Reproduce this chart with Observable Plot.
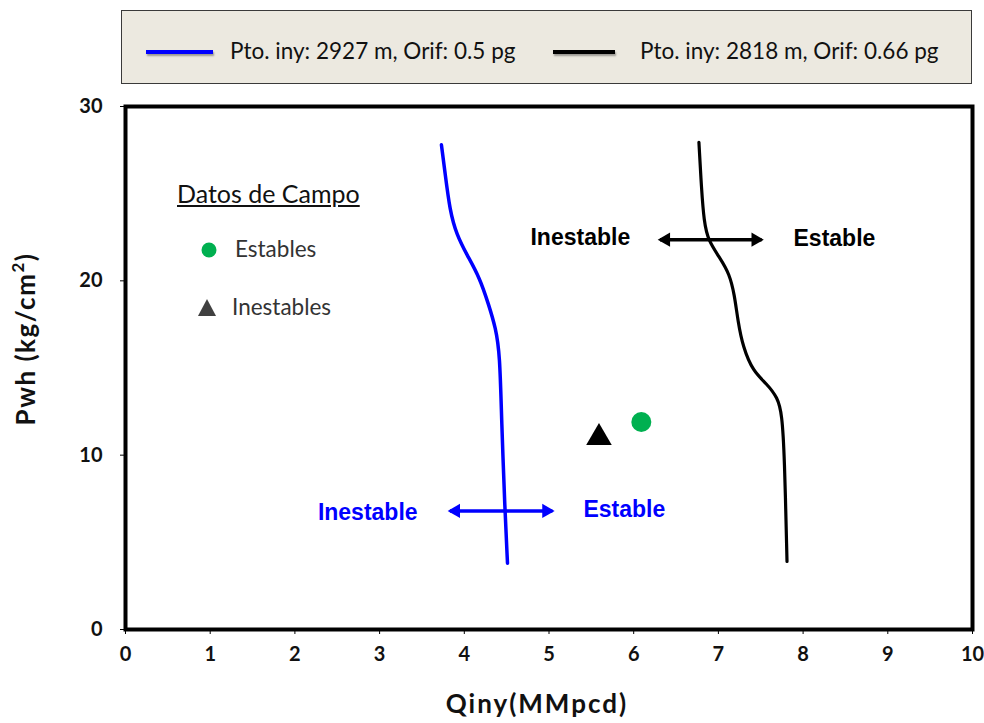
<!DOCTYPE html>
<html>
<head>
<meta charset="utf-8">
<script src="https://cdn.jsdelivr.net/npm/d3@7"></script>
<script src="https://cdn.jsdelivr.net/npm/@observablehq/plot@0.6"></script>
<style>
  body { margin: 0; background: #fff; }
  #wrap { position: relative; width: 984px; height: 723px; overflow: hidden; font-family: Lato, "Open Sans", sans-serif; }
  #legend { position: absolute; left: 121px; top: 10px; width: 849px; height: 72px; background: #ECE9E0; border: 1.5px solid #3a3a3a; box-sizing: content-box; }
  .sw { position: absolute; height: 4px; box-shadow: 1px 2px 2px rgba(0,0,0,0.35); }
  .lt { position: absolute; font-size: 22.5px; color: #111; white-space: nowrap; line-height: 1; }
  .ttl { position: absolute; font-weight: bold; color: #111; white-space: nowrap; line-height: 1; }
  .inl { position: absolute; font-size: 22.5px; color: #333; white-space: nowrap; line-height: 1; }
</style>
</head>
<body>
<div id="wrap">
  <div id="chart"></div>
</div>
<script>
// ---- Data ----
const seriesNames = ["Pto. iny: 2927 m, Orif: 0.5 pg", "Pto. iny: 2818 m, Orif: 0.66 pg"];
const seriesColors = ["#0000FF", "#000000"];

// Blue curve (Pto. iny: 2927 m)
const blueQ = [3.73, 3.77, 3.83, 3.91, 4.03, 4.18, 4.29, 4.37, 4.42, 4.44, 4.48, 4.51];
const blueP = [27.8, 26.3, 24.0, 22.65, 21.5, 20.2, 18.6, 17.3, 15.8, 12.0, 6.8, 3.8];

// Black curve (Pto. iny: 2818 m)
const blackQ = [6.77, 6.80, 6.83, 6.88, 7.02, 7.13, 7.19, 7.23, 7.29, 7.41, 7.57, 7.70, 7.75, 7.78, 7.81];
const blackP = [27.95, 25.3, 23.4, 22.3, 21.3, 20.4, 19.2, 17.7, 16.2, 14.8, 14.1, 13.3, 12.35, 10.06, 3.9];

// Field data
const establesQ = [6.09], establesP = [11.9];
const inestablesQ = [5.59], inestablesP = [11.0];

// Stability arrows (from Q1 to Q2 at P)
const arrowQ1 = [6.31, 3.83];
const arrowQ2 = [7.51, 5.04];
const arrowP = [22.36, 6.8];
const arrowColor = ["#000000", "#0000FF"];

// Arrow labels
const labelText = ["Inestable", "Estable", "Inestable", "Estable"];
const labelQ = [5.37, 8.37, 2.86, 5.89];
const labelP = [22.45, 22.4, 6.7, 6.87];
const labelColor = ["#000000", "#000000", "#0000FF", "#0000FF"];

const xTicks = [0, 1, 2, 3, 4, 5, 6, 7, 8, 9, 10];
const yTicks = [0, 10, 20, 30];
const xTitle = "Qiny(MMpcd)";
const yTitle = "Pwh (kg/cm²)";

// ---- Build tables ----
const blue = blueQ.map((q, i) => ({q, p: blueP[i]}));
const black = blackQ.map((q, i) => ({q, p: blackP[i]}));
const estables = establesQ.map((q, i) => ({q, p: establesP[i]}));
const inestables = inestablesQ.map((q, i) => ({q, p: inestablesP[i]}));
const arrows = arrowQ1.map((q1, i) => ({q1, q2: arrowQ2[i], p: arrowP[i], c: arrowColor[i]}));
const labels = labelText.map((t, i) => ({t, q: labelQ[i], p: labelP[i], c: labelColor[i]}));

const chart = Plot.plot({
  width: 984,
  height: 723,
  marginLeft: 125,
  marginRight: 12,
  marginTop: 106,
  marginBottom: 94,
  style: {fontFamily: "Lato, 'Open Sans', sans-serif", fontSize: "20px", fontWeight: "bold", color: "#111", background: "transparent"},
  x: {domain: [0, 10], ticks: xTicks, label: null},
  y: {domain: [0, 30], ticks: yTicks, label: null},
  marks: [
    Plot.axisX({ticks: xTicks, tickSize: 5, tickPadding: 12, label: null, stroke: "#000"}),
    Plot.axisY({ticks: yTicks, tickSize: 5, tickPadding: 18, label: null, stroke: "#000"}),
    Plot.line(blue, {x: "q", y: "p", stroke: seriesColors[0], strokeWidth: 3.5, curve: "basis"}),
    Plot.line(black, {x: "q", y: "p", stroke: seriesColors[1], strokeWidth: 3.2, curve: "basis"}),
    Plot.link(arrows, {x1: "q1", x2: "q2", y1: "p", y2: "p", stroke: "c", strokeWidth: 3.5}),
    Plot.dot(arrows, {x: "q2", y: "p", fill: "c", symbol: "triangle", r: 5.3, rotate: 90, dx: -6}),
    Plot.dot(arrows, {x: "q1", y: "p", fill: "c", symbol: "triangle", r: 5.3, rotate: -90, dx: 6}),
    Plot.text(labels, {x: "q", y: "p", text: "t", fill: "c", fontSize: 23, fontWeight: "bold", fontFamily: "'Liberation Sans', Arial, sans-serif"}),
    Plot.dot(estables, {x: "q", y: "p", fill: "#00B050", r: 10, stroke: null}),
    Plot.dot(inestables, {x: "q", y: "p", fill: "#000000", symbol: "triangle", r: 9.5}),
    Plot.frame({stroke: "#000", strokeWidth: 4})
  ]
});
document.getElementById("chart").appendChild(chart);

// ---- Legends and titles (HTML overlays) ----
const wrap = document.getElementById("wrap");
function add(html) { wrap.insertAdjacentHTML("beforeend", html); }
add(`<div id="legend"></div>`);
add(`<div class="sw" style="left:146px;top:50px;width:67px;background:${seriesColors[0]}"></div>`);
add(`<div class="lt" style="left:230px;top:40px">${seriesNames[0]}</div>`);
add(`<div class="sw" style="left:553px;top:50px;width:62px;background:${seriesColors[1]}"></div>`);
add(`<div class="lt" style="left:640px;top:40px">${seriesNames[1]}</div>`);

// Field-data legend inside plot
add(`<div class="inl" style="left:177px;top:181px;font-size:25px;text-decoration:underline;color:#111">Datos de Campo</div>`);
add(`<svg style="position:absolute;left:0;top:0" width="984" height="723" pointer-events="none">
  <circle cx="209" cy="250" r="7.5" fill="#00B050"></circle>
  <path d="M207,299 L216,316 L198,316 Z" fill="#404040"></path>
</svg>`);
add(`<div class="inl" style="left:235px;top:238px">Estables</div>`);
add(`<div class="inl" style="left:232px;top:296px">Inestables</div>`);

// Axis titles
add(`<div class="ttl" style="left:537px;top:703px;font-size:26px;letter-spacing:2px;transform:translate(-50%,-50%)">${xTitle}</div>`);
add(`<div class="ttl" style="left:25px;top:339px;font-size:26px;letter-spacing:1.5px;transform:translate(-50%,-50%) rotate(-90deg)">Pwh (kg/cm<sup style="font-size:17px;vertical-align:11px;line-height:0">2</sup>)</div>`);
</script>
</body>
</html>
